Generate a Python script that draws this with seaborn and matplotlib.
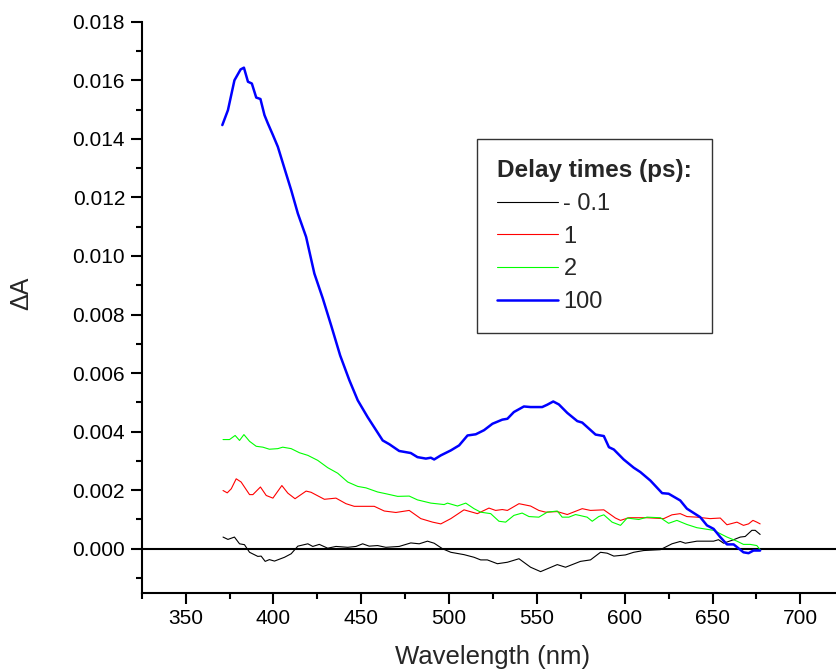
import numpy as np
import pandas as pd
import matplotlib
matplotlib.use("Agg")
import matplotlib.pyplot as plt
from matplotlib.ticker import MultipleLocator, FormatStrFormatter
from matplotlib.lines import Line2D
import seaborn as sns

# ---------------- data ----------------
wl_m01 = [371.3, 374.1, 377.8, 380.7, 383.5, 386.4, 391.1, 393.0, 395.3, 397.7, 400.6, 406.3,
          410.1, 413.9, 419.6, 422.4, 426.1, 430.9, 435.6, 442.3, 447.0, 450.8, 454.5, 459.3,
          464.0, 471.6, 478.2, 483.0, 487.7, 491.5, 496.3, 501.0, 508.5, 514.2, 518.0, 521.8,
          527.5, 533.2, 539.8, 546.4, 552.1, 561.6, 566.3, 574.8, 580.5, 586.2, 590.0, 593.8,
          600.4, 605.1, 610.8, 620.3, 626.9, 631.6, 634.5, 641.1, 650.6, 653.4, 656.3, 662.0,
          665.8, 668.6, 672.4, 674.3, 677.1]
dA_m01 = [0.00040, 0.00032, 0.00040, 0.00017, 0.00014, -0.00012, -0.00026, -0.00025, -0.00043,
          -0.00037, -0.00042, -0.00029, -0.00017, 0.00009, 0.00017, 0.00008, 0.00015, 0.00002,
          0.00008, 0.00005, 0.00008, 0.00017, 0.00009, 0.00011, 0.00005, 0.00008, 0.00020,
          0.00017, 0.00026, 0.00019, 0.00000, -0.00012, -0.00020, -0.00029, -0.00038, -0.00038,
          -0.00051, -0.00046, -0.00034, -0.00063, -0.00078, -0.00054, -0.00063, -0.00043,
          -0.00038, -0.00012, -0.00015, -0.00025, -0.00021, -0.00012, -0.00006, -0.00003,
          0.00017, 0.00025, 0.00019, 0.00026, 0.00026, 0.00031, 0.00019, 0.00031, 0.00040,
          0.00042, 0.00063, 0.00063, 0.00049]

wl_1 = [371.3, 373.7, 376.0, 378.8, 381.6, 386.4, 388.3, 392.6, 395.9, 399.7, 404.8, 408.2,
        412.3, 418.6, 421.4, 429.0, 435.6, 441.3, 446.0, 457.4, 463.1, 469.7, 477.3, 483.9,
        490.6, 495.3, 501.0, 508.5, 516.1, 522.7, 526.5, 530.3, 533.2, 539.8, 546.4, 551.1,
        555.0, 561.6, 567.3, 575.8, 580.5, 588.1, 594.7, 597.6, 602.3, 612.7, 622.2, 626.9,
        631.6, 635.4, 641.1, 648.6, 654.4, 658.2, 663.9, 667.6, 670.5, 673.0, 675.2, 677.1]
dA_1 = [0.00199, 0.00191, 0.00205, 0.00239, 0.00228, 0.00185, 0.00185, 0.00211, 0.00182,
        0.00173, 0.00216, 0.00190, 0.00171, 0.00197, 0.00193, 0.00169, 0.00173, 0.00154,
        0.00145, 0.00145, 0.00129, 0.00124, 0.00131, 0.00103, 0.00091, 0.00085, 0.00103,
        0.00133, 0.00120, 0.00139, 0.00131, 0.00134, 0.00131, 0.00154, 0.00146, 0.00131,
        0.00125, 0.00127, 0.00117, 0.00137, 0.00131, 0.00133, 0.00105, 0.00097, 0.00106,
        0.00106, 0.00103, 0.00116, 0.00120, 0.00110, 0.00108, 0.00103, 0.00105, 0.00082,
        0.00091, 0.00080, 0.00085, 0.00097, 0.00091, 0.00085]

wl_2 = [371.3, 375.0, 378.2, 380.7, 383.2, 386.4, 390.2, 394.0, 397.7, 402.5, 405.3, 410.1,
        414.8, 419.6, 425.2, 430.9, 436.6, 442.3, 448.0, 452.7, 459.3, 464.0, 470.7, 477.3,
        482.0, 489.6, 497.2, 499.1, 504.8, 509.5, 514.2, 518.0, 523.7, 528.4, 532.2, 536.9,
        541.6, 545.5, 551.1, 555.9, 561.6, 564.4, 568.2, 572.0, 578.6, 581.5, 585.2, 588.1,
        592.8, 597.6, 601.4, 608.0, 612.7, 620.3, 625.0, 629.7, 635.4, 641.1, 650.6, 658.2,
        663.9, 667.6, 671.4, 675.2, 677.1]
dA_2 = [0.00373, 0.00373, 0.00387, 0.00370, 0.00390, 0.00367, 0.00350, 0.00347, 0.00340,
        0.00342, 0.00347, 0.00342, 0.00328, 0.00319, 0.00302, 0.00277, 0.00258, 0.00228,
        0.00213, 0.00208, 0.00194, 0.00188, 0.00179, 0.00180, 0.00167, 0.00156, 0.00151,
        0.00156, 0.00146, 0.00156, 0.00137, 0.00125, 0.00120, 0.00094, 0.00091, 0.00114,
        0.00122, 0.00110, 0.00108, 0.00125, 0.00129, 0.00108, 0.00108, 0.00117, 0.00108,
        0.00094, 0.00110, 0.00116, 0.00091, 0.00080, 0.00105, 0.00100, 0.00108, 0.00106,
        0.00087, 0.00097, 0.00083, 0.00072, 0.00063, 0.00040, 0.00026, 0.00015, 0.00015,
        0.00011, -0.00003]

wl_100 = [370.9, 374.1, 377.8, 381.3, 383.2, 385.5, 387.7, 390.2, 392.6, 394.9, 396.8, 399.7,
          402.5, 406.9, 410.1, 413.9, 418.6, 423.3, 428.1, 433.0, 438.0, 443.2, 448.0, 453.6,
          462.2, 466.0, 471.6, 478.2, 482.0, 486.8, 489.6, 491.5, 495.3, 501.0, 505.7, 510.5,
          515.2, 519.9, 524.7, 530.3, 533.2, 536.9, 542.6, 546.4, 553.0, 555.9, 559.3, 562.5,
          567.3, 573.0, 575.8, 583.4, 588.1, 591.0, 593.8, 599.4, 605.1, 608.9, 614.6, 621.3,
          625.0, 631.6, 635.4, 643.0, 646.8, 650.6, 654.4, 658.2, 662.0, 667.6, 670.5, 673.3,
          677.1]
dA_100 = [0.01447, 0.01498, 0.01600, 0.01637, 0.01643, 0.01595, 0.01589, 0.01541, 0.01536,
          0.01481, 0.01453, 0.01413, 0.01373, 0.01287, 0.01225, 0.01145, 0.01065, 0.00940,
          0.00855, 0.00760, 0.00660, 0.00576, 0.00507, 0.00450, 0.00370, 0.00357, 0.00334,
          0.00327, 0.00313, 0.00308, 0.00311, 0.00305, 0.00319, 0.00336, 0.00353, 0.00387,
          0.00391, 0.00405, 0.00427, 0.00441, 0.00444, 0.00467, 0.00486, 0.00484, 0.00484,
          0.00492, 0.00503, 0.00493, 0.00464, 0.00436, 0.00431, 0.00390, 0.00385, 0.00347,
          0.00339, 0.00305, 0.00277, 0.00262, 0.00233, 0.00190, 0.00188, 0.00165, 0.00137,
          0.00108, 0.00080, 0.00068, 0.00040, 0.00015, 0.00015, -0.00012, -0.00015, -0.00006,
          -0.00006]

delay_labels = ["- 0.1", "1", "2", "100"]
x_ticks = [350, 400, 450, 500, 550, 600, 650, 700]
legend_title = "Delay times (ps):"
x_label = "Wavelength (nm)"
y_label = "\u0394A"

# ---------------- style ----------------
sns.set_theme(style="ticks")
plt.rcParams["font.family"] = ["Liberation Sans", "DejaVu Sans"]

frames = []
for lab, wl, dA in zip(delay_labels, [wl_m01, wl_1, wl_2, wl_100],
                       [dA_m01, dA_1, dA_2, dA_100]):
    frames.append(pd.DataFrame({"wl": wl, "dA": dA, "delay": lab}))
df = pd.concat(frames, ignore_index=True)

colors = {"- 0.1": "#000000", "1": "#ff0000", "2": "#00ff00", "100": "#0000ff"}
widths = {"- 0.1": 0.8, "1": 0.8, "2": 0.8, "100": 1.8}

fig = plt.figure(figsize=(8.36, 6.72), dpi=100)
ax = fig.add_axes([0.1695, 0.118, 0.8404, 0.8497])

ax.axhline(0, color="black", lw=1.5, zorder=1)
for lab in delay_labels:
    sub = df[df["delay"] == lab]
    sns.lineplot(data=sub, x="wl", y="dA", color=colors[lab], linewidth=widths[lab],
                 ax=ax, zorder=3, legend=False)

ax.set_xlim(325, 725)
ax.set_ylim(-0.0015, 0.018)
ax.set_xticks(x_ticks)
ax.xaxis.set_minor_locator(MultipleLocator(25))
ax.yaxis.set_major_locator(MultipleLocator(0.002))
ax.yaxis.set_minor_locator(MultipleLocator(0.001))
ax.yaxis.set_major_formatter(FormatStrFormatter("%.3f"))

for s in ["top", "right"]:
    ax.spines[s].set_visible(False)
for s in ["left", "bottom"]:
    ax.spines[s].set_linewidth(1.5)
    ax.spines[s].set_color("black")

ax.tick_params(axis="both", which="major", direction="out", length=8, width=1.5,
               labelsize=15, colors="black")
ax.tick_params(axis="both", which="minor", direction="out", length=4.5, width=1.5,
               colors="black")
ax.tick_params(axis="x", which="major", pad=3.5)
ax.tick_params(axis="y", which="major", pad=4)

ax.set_xlabel(x_label, fontsize=18.5, labelpad=12.5)
ax.set_ylabel(y_label, fontsize=18)
ax.yaxis.set_label_coords(-0.155, 0.525)

handles = [Line2D([], [], color=colors[l], lw=widths[l]) for l in delay_labels]
leg = ax.legend(handles, delay_labels, title=legend_title, loc="upper left",
                bbox_to_anchor=(477.3 / 836, 1 - 139.3 / 672),
                bbox_transform=fig.transFigure, borderaxespad=0,
                fontsize=17, title_fontproperties={"weight": "bold", "size": 17.5},
                handlelength=2.55, handletextpad=0.25, labelspacing=0.45,
                borderpad=0.85, frameon=True, fancybox=False, alignment="left")
leg.get_frame().set_edgecolor("black")
leg.get_frame().set_linewidth(1.0)

fig.savefig("out.png", dpi=100)
